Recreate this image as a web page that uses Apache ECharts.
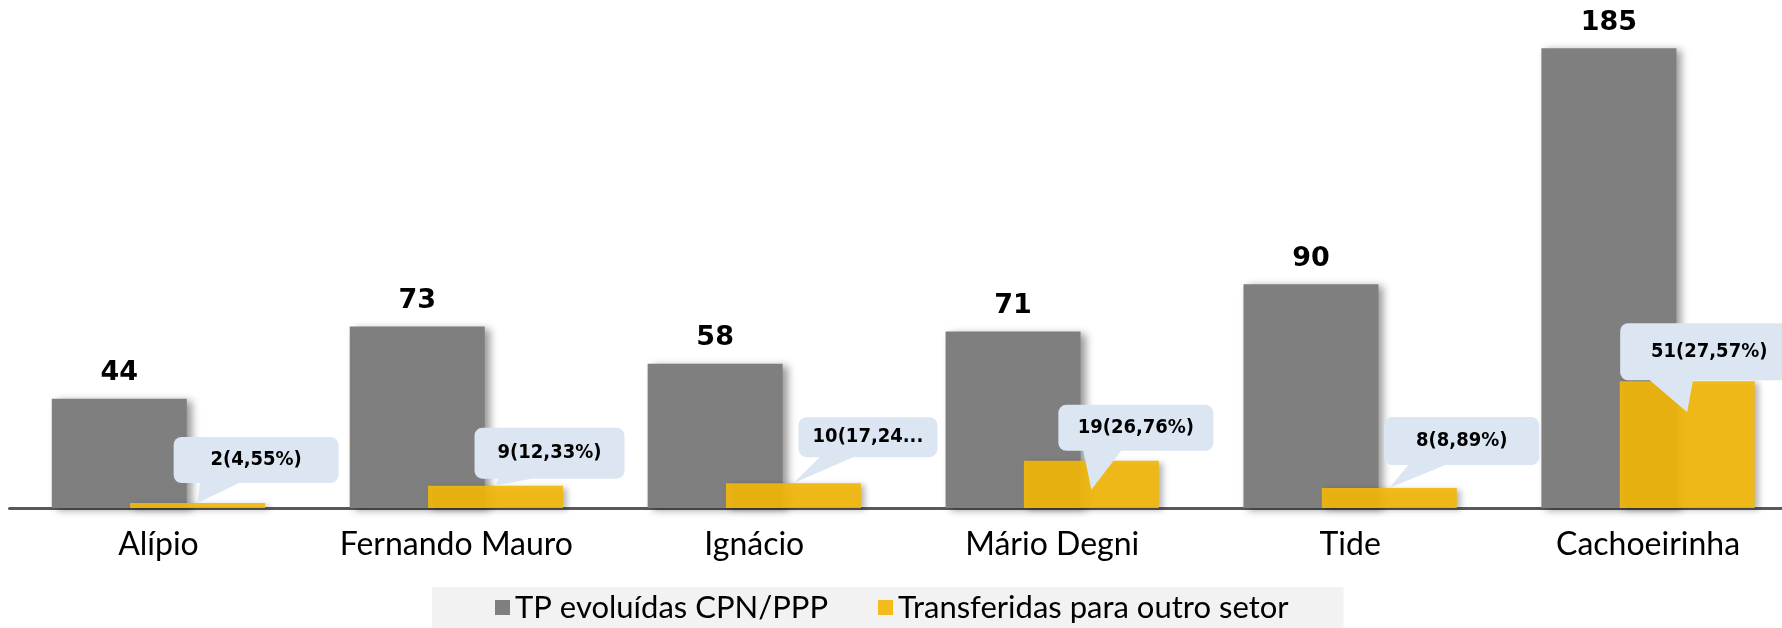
<!DOCTYPE html>
<html>
<head>
<meta charset="utf-8">
<script src="https://cdn.jsdelivr.net/npm/echarts@6/dist/echarts.min.js"></script>
<style>
html,body{margin:0;padding:0;background:#fff;}
#chart{width:1782px;height:628px;}
</style>
</head>
<body>
<div id="chart"></div>
<script>
var categories = ['Alípio', 'Fernando Mauro', 'Ignácio', 'Mário Degni', 'Tide', 'Cachoeirinha'];
var evoluidas = [44, 73, 58, 71, 90, 185];
var transferidas = [2, 9, 10, 19, 8, 51];
var calloutLabels = ['2(4,55%)', '9(12,33%)', '10(17,24...', '19(26,76%)', '8(8,89%)', '51(27,57%)'];
var seriesNames = ['TP evoluídas CPN/PPP', 'Transferidas para outro setor'];

// callout placement relative to the wedge tip: [tipDy, boxDx, boxTopDy, boxW, boxH]
var calloutLayout = [
  [0, -24, -66, 165, 46],
  [0, -21, -58, 150, 51],
  [0, 5, -66, 139, 40],
  [29, -33, -85, 155, 46],
  [0, -5, -71, 155, 48],
  [31, -67, -89, 178, 57]
];

var BAR_W = 135, BAR_GAP = -0.42;
var yellowShift = (BAR_W + BAR_GAP * BAR_W) / 2;

var chart = echarts.init(document.getElementById('chart'), null, {renderer: 'canvas'});
chart.setOption({
  backgroundColor: '#ffffff',
  animation: false,
  grid: {left: 9.5, width: 1787.5, top: 11, bottom: 120, containLabel: false, outerBoundsMode: 'none'},
  legend: {
    data: seriesNames,
    left: 432,
    bottom: 0,
    padding: [5, 55, 5, 63],
    backgroundColor: '#f2f2f2',
    icon: 'rect',
    itemWidth: 15,
    itemHeight: 15,
    itemGap: 50,
    textStyle: {fontFamily: 'Lato', fontSize: 31, color: '#000', lineHeight: 30}
  },
  xAxis: {
    type: 'category',
    data: categories,
    axisLine: {lineStyle: {color: '#595959', width: 3}},
    axisTick: {show: false},
    axisLabel: {interval: 0, hideOverlap: false, fontFamily: 'Lato', fontSize: 32, color: '#000', margin: 21}
  },
  yAxis: {type: 'value', min: 0, max: 200, show: false, splitLine: {show: false}},
  series: [
    {
      name: seriesNames[0],
      type: 'bar',
      data: evoluidas,
      barWidth: BAR_W,
      barGap: (BAR_GAP * 100) + '%',
      itemStyle: {color: '#7f7f7f', shadowColor: 'rgba(0,0,0,0.4)', shadowBlur: 8, shadowOffsetX: 5, shadowOffsetY: 2},
      label: {
        show: true, position: 'top', distance: 12,
        fontFamily: 'DejaVu Sans', fontWeight: 'bold', fontSize: 27, color: '#000'
      },
      z: 2
    },
    {
      name: seriesNames[1],
      type: 'bar',
      data: transferidas,
      barWidth: BAR_W,
      itemStyle: {color: 'rgba(241,183,10,0.92)', shadowColor: 'rgba(0,0,0,0.3)', shadowBlur: 6, shadowOffsetX: 4, shadowOffsetY: 2},
      z: 3
    },
    {
      name: 'callouts',
      type: 'custom',
      coordinateSystem: 'cartesian2d',
      data: transferidas.map(function (v, i) { return [i, v]; }),
      encode: {x: 0, y: 1},
      z: 5,
      silent: true,
      clip: false,
      renderItem: function (params, api) {
        var i = api.value(0), v = api.value(1);
        var p = api.coord([i, v]);
        var L = calloutLayout[i];
        var tx = p[0] + yellowShift, ty = p[1] + L[0];
        var bx = tx + L[1], by = ty + L[2], bw = L[3], bh = L[4];
        var b1 = bx + bw * 0.16, b2 = bx + bw * 0.41;
        return {
          type: 'group',
          children: [
            {type: 'rect', shape: {x: bx, y: by, width: bw, height: bh, r: 8}, style: {fill: '#dce6f2'}},
            {type: 'polygon', shape: {points: [[b1, by + bh - 1], [b2, by + bh - 1], [tx, ty]]}, style: {fill: '#dce6f2'}},
            {type: 'text', style: {
              x: bx + bw / 2, y: by + bh / 2, text: calloutLabels[i],
              align: 'center', verticalAlign: 'middle',
              font: 'bold 20px "DejaVu Sans Condensed", "DejaVu Sans", sans-serif', fill: '#000'
            }}
          ]
        };
      }
    }
  ]
});
</script>
</body>
</html>
